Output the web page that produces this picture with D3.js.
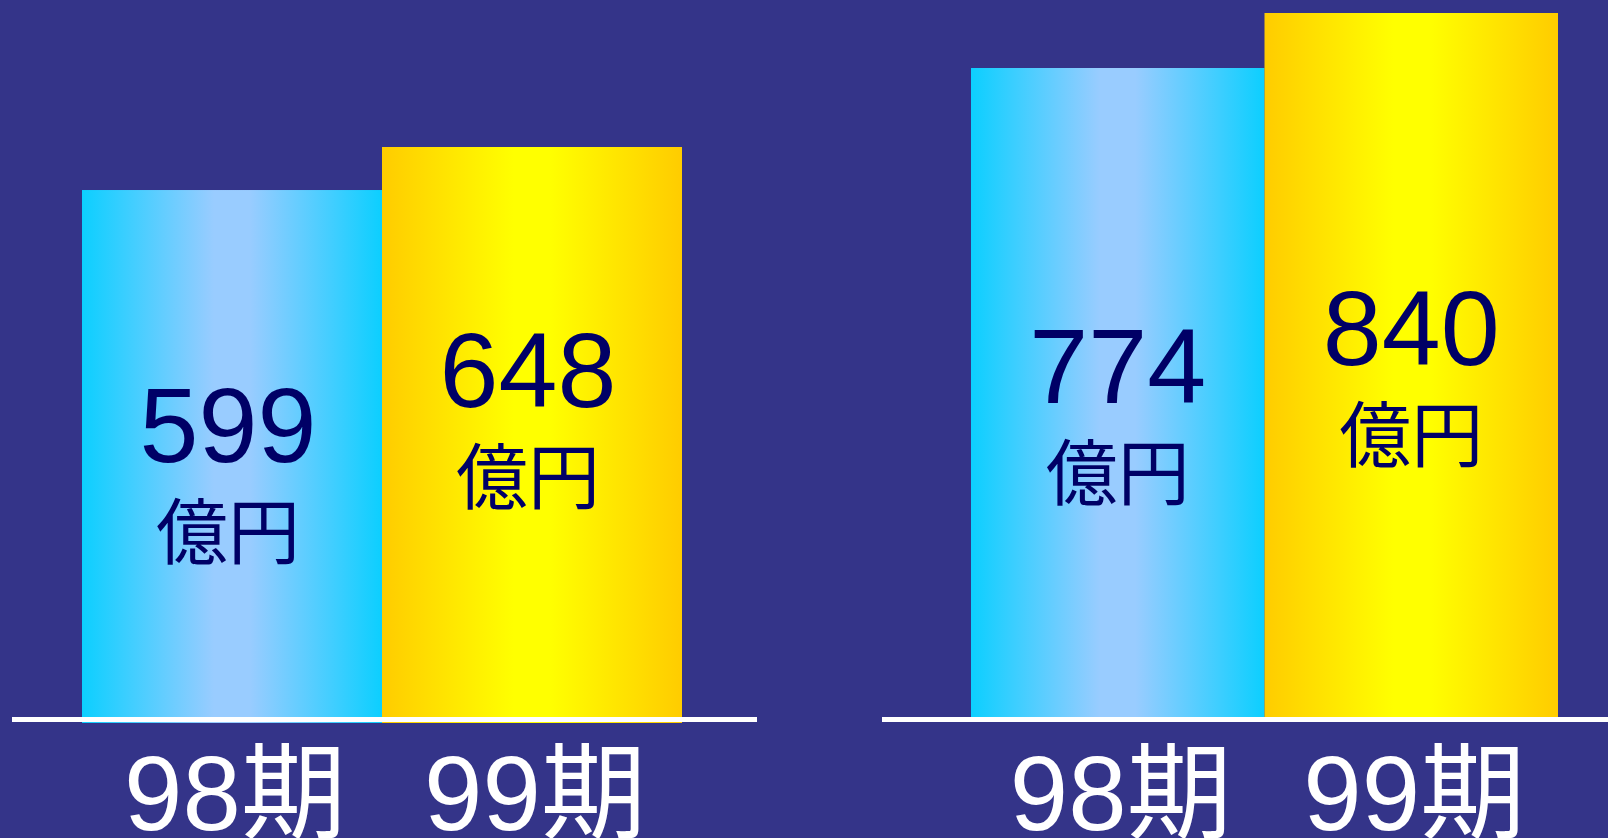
<!DOCTYPE html>
<html>
<head>
<meta charset="utf-8">
<script src="https://cdn.jsdelivr.net/npm/d3@7"></script>
<style>
  html, body { margin: 0; padding: 0; background: #343489; overflow: hidden; }
  svg { display: block; }
  text { font-family: "Liberation Sans", Arial, "Noto Sans CJK JP", sans-serif; }
</style>
</head>
<body>
<svg id="chart" width="1608" height="838"></svg>
<script>
// 98期 / 99期 の比較（左右 2 つのパネル）
const periods = ["98期", "99期"];
const leftValues = [599, 648];
const rightValues = [774, 840];
const unitLabel = "億円";

// レイアウト（データとは別）
const W = 1608, H = 838;
const BG = "#343489";
const NAVY = "#000066";

const panels = [
  { values: leftValues, x0: 82, x1: 682, zeroY: 716, topY: 147, barBottom: 723,
    lineX: [12, 757], labelBase: [462, 407], labelDx: -4 },
  { values: rightValues, x0: 971, x1: 1558, zeroY: 713, topY: 13, barBottom: 717,
    lineX: [882, 1608], labelBase: [403, 365], labelDx: 0 },
];

const svg = d3.select("#chart");
svg.append("rect").attr("width", W).attr("height", H).attr("fill", BG);

// 横グラデーション：両端が濃く、中央が明るい
const defs = svg.append("defs");
function addGrad(id, edge, mid) {
  const gr = defs.append("linearGradient").attr("id", id)
    .attr("x1", "0%").attr("x2", "100%").attr("y1", "0%").attr("y2", "0%");
  [[0, edge], [0.44, mid], [0.56, mid], [1, edge]].forEach(([o, c]) =>
    gr.append("stop").attr("offset", o).attr("stop-color", c));
}
addGrad("g-blue", "#0ccfff", "#99ccff");
addGrad("g-yellow", "#ffcc00", "#ffff00");
const fills = ["url(#g-blue)", "url(#g-yellow)"];

panels.forEach((p) => {
  const data = periods.map((k, i) => ({ period: k, value: p.values[i], i }));
  const x = d3.scaleBand().domain(periods).range([p.x0, p.x1]).padding(0);
  const y = d3.scaleLinear().domain([0, d3.max(p.values)]).range([p.zeroY, p.topY]);
  const g = svg.append("g");

  g.selectAll("rect.bar").data(data).join("rect")
    .attr("class", "bar")
    .attr("x", (d) => x(d.period))
    .attr("width", x.bandwidth())
    .attr("y", (d) => y(d.value))
    .attr("height", (d) => p.barBottom - y(d.value))
    .attr("fill", (d) => fills[d.i]);

  // 基準線
  g.append("rect")
    .attr("x", p.lineX[0]).attr("width", p.lineX[1] - p.lineX[0])
    .attr("y", 717).attr("height", 5).attr("fill", "#ffffff");

  // 値ラベル（数字 + 億円）
  const lab = g.selectAll("g.lab").data(data).join("g").attr("class", "lab")
    .attr("transform", (d) => `translate(${x(d.period) + x.bandwidth() / 2 + p.labelDx},${p.labelBase[d.i]})`);
  lab.append("text")
    .attr("text-anchor", "middle").attr("fill", NAVY)
    .style("font-size", "106px")
    .text((d) => d.value);
  lab.append("text")
    .attr("y", 96)
    .attr("text-anchor", "middle").attr("fill", NAVY)
    .style("font-size", "72px")
    .style("font-family", "'Noto Sans CJK JP', sans-serif")
    .text(unitLabel);

  // 期ラベル
  const axis = d3.axisBottom(x).tickSize(0).tickPadding(0);
  const ax = g.append("g").attr("transform", `translate(3,830)`).call(axis);
  ax.select(".domain").remove();
  ax.selectAll("text")
    .attr("dy", 0).attr("y", 0)
    .attr("fill", "#ffffff")
    .style("font-size", "105px")
    .style("font-family", "'Liberation Sans', 'Noto Sans CJK JP', sans-serif");
});
</script>
</body>
</html>
